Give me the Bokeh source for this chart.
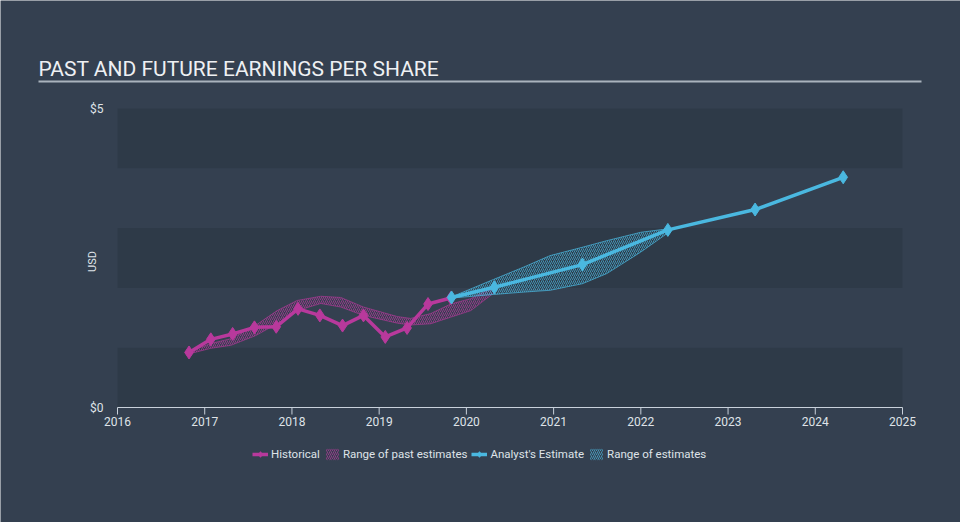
from bokeh.plotting import figure
from bokeh.models import (Range1d, FixedTicker, PrintfTickFormatter, BoxAnnotation, Label,
                          Legend, LegendItem, ColumnDataSource)
from bokeh.embed import file_html
from bokeh.resources import INLINE

# ---- data ----
hist_x = [2016.82, 2017.07, 2017.32, 2017.57, 2017.82, 2018.07, 2018.32, 2018.58,
          2018.82, 2019.07, 2019.32, 2019.56, 2019.82]
hist_y = [0.92, 1.14, 1.23, 1.34, 1.35, 1.65, 1.54, 1.37, 1.54, 1.18, 1.33, 1.73, 1.83]

past_rng_x = [2016.83, 2017.07, 2017.30, 2017.58, 2017.83, 2018.06, 2018.33, 2018.56,
              2018.82, 2019.21, 2019.36, 2019.59, 2019.82, 2020.05, 2020.31]
past_rng_lo = [0.90, 0.99, 1.04, 1.20, 1.40, 1.62, 1.74, 1.68, 1.54, 1.41, 1.38, 1.40,
               1.51, 1.62, 1.91]
past_rng_hi = [0.94, 1.07, 1.15, 1.37, 1.62, 1.79, 1.86, 1.84, 1.68, 1.52, 1.49, 1.57,
               1.73, 1.82, 2.01]

est_x = [2019.83, 2020.32, 2021.33, 2022.31, 2023.31, 2024.32]
est_y = [1.84, 2.01, 2.39, 2.97, 3.31, 3.85]

est_rng_x = [2019.83, 2020.31, 2020.66, 2020.96, 2021.33, 2021.61, 2022.00, 2022.32]
est_rng_lo = [1.83, 1.89, 1.93, 1.96, 2.07, 2.24, 2.60, 2.93]
est_rng_hi = [1.85, 2.14, 2.35, 2.54, 2.68, 2.79, 2.93, 2.99]

x_ticks = [2016, 2017, 2018, 2019, 2020, 2021, 2022, 2023, 2024, 2025]
y_ticks = [0, 5]
band_ticks = [0, 1, 2, 3, 4, 5]

title_text = "PAST AND FUTURE EARNINGS PER SHARE"

# ---- styling / layout (pixels) ----
W, H = 960, 522
BG = "#344050"
DARK_BAND = "#2e3a48"
MAGENTA = "#b8399c"
BLUE = "#4ab8e0"
TEXT = "#dfe3e8"
RULE = "#aab3bd"
AXIS = "#c9d1db"
FONT = "Roboto"

PLOT_L, PLOT_R, PLOT_T, PLOT_B = 117, 902, 108, 407   # where the data area sits
PXX = (PLOT_R - PLOT_L) / (x_ticks[-1] - x_ticks[0])  # px per year
PXY = (PLOT_B - PLOT_T) / (y_ticks[-1] - y_ticks[0])  # px per dollar

def xd(px):  # canvas px -> data x
    return x_ticks[0] + (px - PLOT_L) / PXX

def yd(py):  # canvas px -> data y
    return y_ticks[0] + (PLOT_B - py) / PXY

p = figure(width=W, height=H, output_backend="svg", toolbar_location=None,
           x_range=Range1d(xd(0), xd(W)), y_range=Range1d(yd(H), yd(0)),
           min_border=0, min_border_left=0, min_border_right=0,
           min_border_top=0, min_border_bottom=0)
p.background_fill_color = BG
p.border_fill_color = BG
p.outline_line_color = None
p.outline_line_alpha = 0
p.outline_line_width = 0
p.grid.visible = False

# alternating bands (0-1, 2-3, 4-5) across the data span
for lo, hi in zip(band_ticks[0::2], band_ticks[1::2]):
    p.add_layout(BoxAnnotation(left=x_ticks[0], right=x_ticks[-1], bottom=lo, top=hi,
                               fill_color=DARK_BAND, fill_alpha=1, line_color=None,
                               level="underlay"))

# title and rule
p.add_layout(Label(x=38, y=H - 68, x_units="screen", y_units="screen", text=title_text,
                   text_color="#eef0f3", text_font=FONT, text_font_size="21px",
                   text_baseline="middle", text_align="left"))
p.add_layout(BoxAnnotation(left=xd(38), right=xd(921), bottom=yd(82), top=yd(80),
                           fill_color=RULE, fill_alpha=1, line_color=None))

# x axis: line and ticks along $0, labels from the axis
p.segment(x0=[x_ticks[0]], y0=[y_ticks[0]], x1=[x_ticks[-1]], y1=[y_ticks[0]],
          line_color=AXIS, line_width=1)
p.segment(x0=x_ticks, y0=[y_ticks[0]] * len(x_ticks), x1=x_ticks,
          y1=[yd(PLOT_B + 7)] * len(x_ticks), line_color=AXIS, line_width=1)

xa = p.xaxis[0]
xa.ticker = FixedTicker(ticks=x_ticks)
xa.axis_line_color = None
xa.major_tick_line_color = None
xa.minor_tick_line_color = None
xa.major_tick_out = 0
xa.major_tick_in = 0
xa.major_label_text_color = TEXT
xa.major_label_text_font = FONT
xa.major_label_text_font_size = "12px"
xa.major_label_standoff = -(H - PLOT_B - 9)

# y axis
ya = p.yaxis[0]
ya.ticker = FixedTicker(ticks=y_ticks)
ya.bounds = (y_ticks[0], y_ticks[-1])
ya.formatter = PrintfTickFormatter(format="$%d")
ya.axis_line_color = None
ya.major_tick_line_color = None
ya.minor_tick_line_color = None
ya.major_tick_out = 0
ya.major_tick_in = 0
ya.major_label_text_color = TEXT
ya.major_label_text_font = FONT
ya.major_label_text_font_size = "12px"
ya.major_label_standoff = -103
ya.axis_label = "USD"
ya.axis_label_text_color = TEXT
ya.axis_label_text_font = FONT
ya.axis_label_text_font_size = "11px"
ya.axis_label_text_font_style = "normal"
ya.axis_label_standoff = -12

# ranges (hatched)
past_src = ColumnDataSource(dict(x=past_rng_x, lo=past_rng_lo, hi=past_rng_hi))
est_src = ColumnDataSource(dict(x=est_rng_x, lo=est_rng_lo, hi=est_rng_hi))

r_past_rng = p.varea(x="x", y1="lo", y2="hi", source=past_src, fill_alpha=0,
                     hatch_pattern="/", hatch_color=MAGENTA, hatch_alpha=0.7,
                     hatch_scale=4, hatch_weight=1)
p.line("x", "lo", source=past_src, line_color=MAGENTA, line_width=1, line_alpha=0.6)
p.line("x", "hi", source=past_src, line_color=MAGENTA, line_width=1, line_alpha=0.6)

r_est_rng = p.varea(x="x", y1="lo", y2="hi", source=est_src, fill_alpha=0,
                    hatch_pattern="/", hatch_color=BLUE, hatch_alpha=0.7,
                    hatch_scale=4, hatch_weight=1)
p.line("x", "lo", source=est_src, line_color=BLUE, line_width=1, line_alpha=0.7)
p.line("x", "hi", source=est_src, line_color=BLUE, line_width=1, line_alpha=0.7)

# lines
hist_src = ColumnDataSource(dict(x=hist_x, y=hist_y))
est_src2 = ColumnDataSource(dict(x=est_x, y=est_y))
r_hl = p.line("x", "y", source=hist_src, line_color=MAGENTA, line_width=3.5)
r_hm = p.scatter("x", "y", source=hist_src, marker="diamond", size=13,
                 fill_color=MAGENTA, line_color=MAGENTA)
r_el = p.line("x", "y", source=est_src2, line_color=BLUE, line_width=3.5)
r_em = p.scatter("x", "y", source=est_src2, marker="diamond", size=13,
                 fill_color=BLUE, line_color=BLUE)

# legend, inside the (full-canvas) frame, below the axis
legend = Legend(items=[
    LegendItem(label="Historical", renderers=[r_hl, r_hm]),
    LegendItem(label="Range of past estimates", renderers=[r_past_rng]),
    LegendItem(label="Analyst's Estimate", renderers=[r_el, r_em]),
    LegendItem(label="Range of estimates", renderers=[r_est_rng]),
], orientation="horizontal", location=(252, H - 454 - 7))
legend.background_fill_alpha = 0
legend.border_line_color = None
legend.label_text_color = TEXT
legend.label_text_font = FONT
legend.label_text_font_size = "11.5px"
legend.glyph_width = 16
legend.glyph_height = 14
legend.label_standoff = 3
legend.spacing = 4
legend.padding = 0
legend.margin = 0
p.add_layout(legend, "center")

open("out.html", "w").write(file_html(p, INLINE))
